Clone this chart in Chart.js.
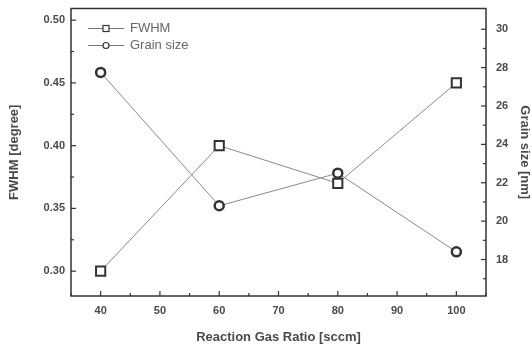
<!DOCTYPE html>
<html>
<head>
<meta charset="utf-8">
<script src="https://cdn.jsdelivr.net/npm/chart.js@4"></script>
<style>
  body { margin: 0; background: #fff; }
  #wrap { width: 532px; height: 347px; }
</style>
</head>
<body>
<div id="wrap"><canvas id="chart"></canvas></div>
<script>
// Data
const gasRatio = [40, 60, 80, 100];
const fwhm = [0.30, 0.40, 0.37, 0.45];
const grainSize = [27.75, 20.8, 22.5, 18.4];

const leftTicks = [0.30, 0.325, 0.35, 0.375, 0.40, 0.425, 0.45, 0.475, 0.50];
const rightTicks = [17, 18, 19, 20, 21, 22, 23, 24, 25, 26, 27, 28, 29, 30];

const frameColor = '#333';
const textColor = '#4a4a4a';

// Frame, inward tick marks and legend inside the plot
const framePlugin = {
    id: 'frame',
    afterDraw(chart) {
        const ctx = chart.ctx;
        const a = chart.chartArea;
        ctx.save();
        ctx.strokeStyle = frameColor;
        ctx.lineWidth = 1.5;
        ctx.strokeRect(a.left, a.top, a.right - a.left, a.bottom - a.top);

        ctx.lineWidth = 1.2;
        const x = chart.scales.x;
        x.ticks.forEach(t => {
            const px = x.getPixelForValue(t.value);
            const len = t.value % 10 === 0 ? 5 : 3;
            ctx.beginPath();
            ctx.moveTo(px, a.bottom);
            ctx.lineTo(px, a.bottom - len);
            ctx.stroke();
        });
        const yl = chart.scales.y;
        yl.ticks.forEach(t => {
            const py = yl.getPixelForValue(t.value);
            const major = Math.abs(t.value * 20 - Math.round(t.value * 20)) < 1e-6;
            ctx.beginPath();
            ctx.moveTo(a.left, py);
            ctx.lineTo(a.left + (major ? 5 : 3), py);
            ctx.stroke();
        });
        const yr = chart.scales.y1;
        yr.ticks.forEach(t => {
            const py = yr.getPixelForValue(t.value);
            const len = t.value % 2 === 0 ? 5 : 3;
            ctx.beginPath();
            ctx.moveTo(a.right, py);
            ctx.lineTo(a.right - len, py);
            ctx.stroke();
        });

        // legend
        ctx.font = '13px "Liberation Sans", Arial, sans-serif';
        ctx.textBaseline = 'middle';
        chart.data.datasets.forEach((ds, i) => {
            const ly = a.top + 20 + i * 17;
            const lx = a.left + 17;
            ctx.strokeStyle = '#777';
            ctx.lineWidth = 1;
            ctx.beginPath();
            ctx.moveTo(lx, ly);
            ctx.lineTo(lx + 36, ly);
            ctx.stroke();
            ctx.fillStyle = '#fff';
            ctx.strokeStyle = frameColor;
            ctx.lineWidth = 1.2;
            if (ds.pointStyle === 'rect') {
                ctx.fillRect(lx + 15, ly - 3, 6, 6);
                ctx.strokeRect(lx + 15, ly - 3, 6, 6);
            } else {
                ctx.beginPath();
                ctx.arc(lx + 18, ly, 3, 0, Math.PI * 2);
                ctx.fill();
                ctx.stroke();
            }
            ctx.fillStyle = '#666';
            ctx.fillText(ds.label, lx + 42, ly);
        });
        ctx.restore();
    }
};

const tickFont = { family: '"Liberation Sans", Arial, sans-serif', size: 11, weight: 'bold' };
const titleFont = { family: '"Liberation Sans", Arial, sans-serif', size: 13, weight: 'bold' };

// fixed axis boxes so the plot area lands where the picture has it
function fixWidth(w) {
    return s => { s.width = w; s.paddingTop = 0; s.paddingBottom = 0; };
}

new Chart(document.getElementById('chart'), {
    type: 'line',
    data: {
        datasets: [{
            label: 'FWHM',
            data: gasRatio.map((g, i) => ({ x: g, y: fwhm[i] })),
            yAxisID: 'y',
            borderColor: '#8a8a8a',
            borderWidth: 1,
            pointStyle: 'rect',
            pointRadius: 6.5,
            pointBorderWidth: 2,
            pointBorderColor: frameColor,
            pointBackgroundColor: '#fff'
        }, {
            label: 'Grain size',
            data: gasRatio.map((g, i) => ({ x: g, y: grainSize[i] })),
            yAxisID: 'y1',
            borderColor: '#8a8a8a',
            borderWidth: 1,
            pointStyle: 'circle',
            pointRadius: 4.5,
            pointBorderWidth: 2.5,
            pointBorderColor: frameColor,
            pointBackgroundColor: '#fff'
        }]
    },
    options: {
        responsive: true,
        maintainAspectRatio: false,
        animation: false,
        layout: { padding: { left: 0, right: 0, top: 7, bottom: 0 } },
        plugins: {
            legend: { display: false },
            tooltip: { enabled: false }
        },
        scales: {
            x: {
                type: 'linear',
                min: 35,
                max: 105,
                afterFit: s => { s.height = 51; s.paddingLeft = 0; s.paddingRight = 0; },
                border: { display: false },
                grid: { drawOnChartArea: false, drawTicks: false },
                ticks: {
                    stepSize: 5,
                    padding: 8,
                    maxRotation: 0,
                    autoSkip: false,
                    color: textColor,
                    font: tickFont,
                    callback: v => (v % 10 === 0 && v >= 40 && v <= 100 ? v : '')
                },
                title: {
                    display: true,
                    text: 'Reaction Gas Ratio [sccm]',
                    color: textColor,
                    font: titleFont,
                    padding: { top: 0, bottom: 2 }
                }
            },
            y: {
                position: 'left',
                min: 0.2802,
                max: 0.5093,
                afterFit: fixWidth(71),
                afterBuildTicks: s => { s.ticks = leftTicks.map(v => ({ value: v })); },
                border: { display: false },
                grid: { drawOnChartArea: false, drawTicks: false },
                ticks: {
                    padding: 6,
                    color: textColor,
                    font: tickFont,
                    callback: v => {
                        const r = Math.round(v * 100) / 100;
                        return Math.abs(v * 20 - Math.round(v * 20)) < 1e-6 ? r.toFixed(2) : '';
                    }
                },
                title: {
                    display: true,
                    text: 'FWHM [degree]',
                    color: textColor,
                    font: titleFont,
                    padding: { top: 7, bottom: 0 }
                }
            },
            y1: {
                position: 'right',
                min: 16.1,
                max: 31.08,
                afterFit: fixWidth(46),
                afterBuildTicks: s => { s.ticks = rightTicks.map(v => ({ value: v })); },
                border: { display: false },
                grid: { drawOnChartArea: false, drawTicks: false },
                ticks: {
                    padding: 10,
                    color: textColor,
                    font: tickFont,
                    callback: v => (v % 2 === 0 ? v : '')
                },
                title: {
                    display: true,
                    text: 'Grain size [nm]',
                    color: textColor,
                    font: titleFont,
                    padding: { top: 0, bottom: 0 }
                }
            }
        }
    },
    plugins: [framePlugin]
});
</script>
</body>
</html>
